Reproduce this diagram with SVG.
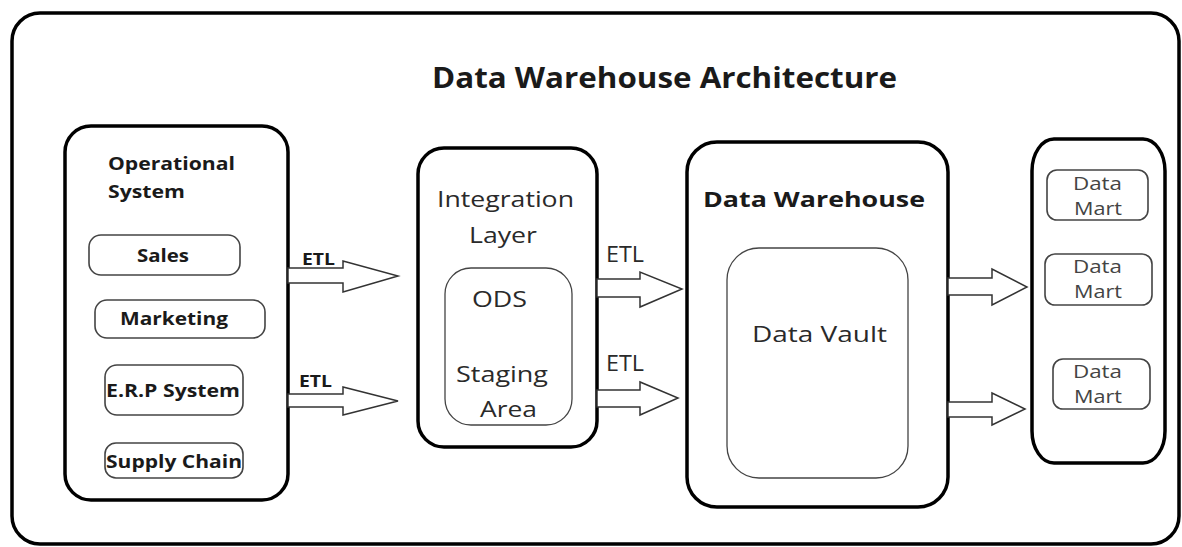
<svg xmlns="http://www.w3.org/2000/svg" width="1182" height="547" viewBox="0 0 1182 547">
<style>
.main{fill:#fff;stroke:#000;stroke-width:3.5}
.sub{fill:#fff;stroke:#444;stroke-width:1.6}
.inner{fill:#fff;stroke:#444;stroke-width:1.3}
.arrow{fill:#fff;stroke:#333;stroke-width:1.5;stroke-linejoin:miter}
.b{font-family:"Open Sans","Noto Sans",sans-serif;font-weight:bold;fill:#1a1a1a}
.n{font-family:"Open Sans","Noto Sans",sans-serif;fill:#2a2a2a}
.m{font-family:"Open Sans","Noto Sans",sans-serif;fill:#444}
</style>
<rect x="0" y="0" width="1182" height="547" fill="#fff"/>
<g id="frame">
<rect class="main" x="12" y="13" width="1167" height="531" rx="28" ry="28"/>
<text class="b" x="432" y="88" font-size="28" textLength="465" lengthAdjust="spacingAndGlyphs">Data Warehouse Architecture</text>
</g>
<g id="operational-system">
<rect class="main" x="65" y="126" width="223" height="374" rx="26" ry="26"/>
<text class="b" x="108" y="170" font-size="18" textLength="127" lengthAdjust="spacingAndGlyphs">Operational</text>
<text class="b" x="108" y="198" font-size="18" textLength="77" lengthAdjust="spacingAndGlyphs">System</text>
</g>
<g id="sales">
<rect class="sub" x="89" y="235" width="151" height="40" rx="12" ry="12"/>
<text class="b" x="137" y="262" font-size="18" textLength="52" lengthAdjust="spacingAndGlyphs">Sales</text>
</g>
<g id="marketing">
<rect class="sub" x="95" y="300" width="170" height="38" rx="12" ry="12"/>
<text class="b" x="120" y="325" font-size="18" textLength="108" lengthAdjust="spacingAndGlyphs">Marketing</text>
</g>
<g id="erp-system">
<rect class="sub" x="105" y="365" width="138" height="50" rx="12" ry="12"/>
<text class="b" x="106" y="397" font-size="18" textLength="134" lengthAdjust="spacingAndGlyphs">E.R.P System</text>
</g>
<g id="supply-chain">
<rect class="sub" x="105" y="443" width="138" height="35" rx="11" ry="11"/>
<text class="b" x="106" y="468" font-size="18" textLength="136" lengthAdjust="spacingAndGlyphs">Supply Chain</text>
</g>
<g id="integration-layer">
<rect class="main" x="418" y="148" width="179" height="299" rx="26" ry="26"/>
<text class="n" x="437" y="207" font-size="21" textLength="137" lengthAdjust="spacingAndGlyphs">Integration</text>
<text class="n" x="469" y="243" font-size="21" textLength="68" lengthAdjust="spacingAndGlyphs">Layer</text>
</g>
<g id="ods-staging">
<rect class="inner" x="445" y="268" width="127" height="157" rx="26" ry="26"/>
<text class="n" x="472" y="307" font-size="21" textLength="55" lengthAdjust="spacingAndGlyphs">ODS</text>
<text class="n" x="456" y="382" font-size="21" textLength="92" lengthAdjust="spacingAndGlyphs">Staging</text>
<text class="n" x="480" y="417" font-size="21" textLength="57" lengthAdjust="spacingAndGlyphs">Area</text>
</g>
<g id="data-warehouse">
<rect class="main" x="687" y="142" width="261" height="365" rx="30" ry="30"/>
<text class="b" x="703" y="207" font-size="22" textLength="222" lengthAdjust="spacingAndGlyphs">Data Warehouse</text>
</g>
<g id="data-vault">
<rect class="inner" x="727" y="248" width="181" height="230" rx="32" ry="32"/>
<text class="n" x="752" y="342" font-size="22" textLength="135" lengthAdjust="spacingAndGlyphs">Data Vault</text>
</g>
<g id="data-marts">
<rect class="main" x="1032" y="139" width="133" height="324" rx="22" ry="32"/>
</g>
<g id="data-mart-1">
<rect class="sub" x="1047" y="170" width="101" height="50" rx="10" ry="10"/>
<text class="m" x="1073" y="190" font-size="18" textLength="49" lengthAdjust="spacingAndGlyphs">Data</text>
<text class="m" x="1074" y="215" font-size="18" textLength="48" lengthAdjust="spacingAndGlyphs">Mart</text>
</g>
<g id="data-mart-2">
<rect class="sub" x="1045" y="254" width="107" height="51" rx="10" ry="10"/>
<text class="m" x="1073" y="273" font-size="18" textLength="49" lengthAdjust="spacingAndGlyphs">Data</text>
<text class="m" x="1074" y="298" font-size="18" textLength="48" lengthAdjust="spacingAndGlyphs">Mart</text>
</g>
<g id="data-mart-3">
<rect class="sub" x="1053" y="359" width="97" height="50" rx="10" ry="10"/>
<text class="m" x="1073" y="378" font-size="18" textLength="49" lengthAdjust="spacingAndGlyphs">Data</text>
<text class="m" x="1074" y="403" font-size="18" textLength="48" lengthAdjust="spacingAndGlyphs">Mart</text>
</g>
<g id="connectors">
<polygon class="arrow" points="288,268 343,268 343,261 398,276 343,292 343,283 288,283"/>
<polygon class="arrow" points="288,394 343,394 343,387 398,401 343,415 343,407 288,407"/>
<polygon class="arrow" points="597,279 640,279 640,272 682,289 640,307 640,297 597,297"/>
<polygon class="arrow" points="597,390 640,390 640,382 678,398 640,415 640,407 597,407"/>
<polygon class="arrow" points="948,278 992,278 992,269 1027,287 992,305 992,295 948,295"/>
<polygon class="arrow" points="948,402 992,402 992,393 1025,409 992,425 992,417 948,417"/>
<text class="b" x="302" y="265" font-size="16" textLength="33" lengthAdjust="spacingAndGlyphs">ETL</text>
<text class="b" x="299" y="387" font-size="16" textLength="33" lengthAdjust="spacingAndGlyphs">ETL</text>
<text class="n" x="606" y="262" font-size="21" textLength="38" lengthAdjust="spacingAndGlyphs">ETL</text>
<text class="n" x="606" y="371" font-size="21" textLength="38" lengthAdjust="spacingAndGlyphs">ETL</text>
</g>
</svg>
